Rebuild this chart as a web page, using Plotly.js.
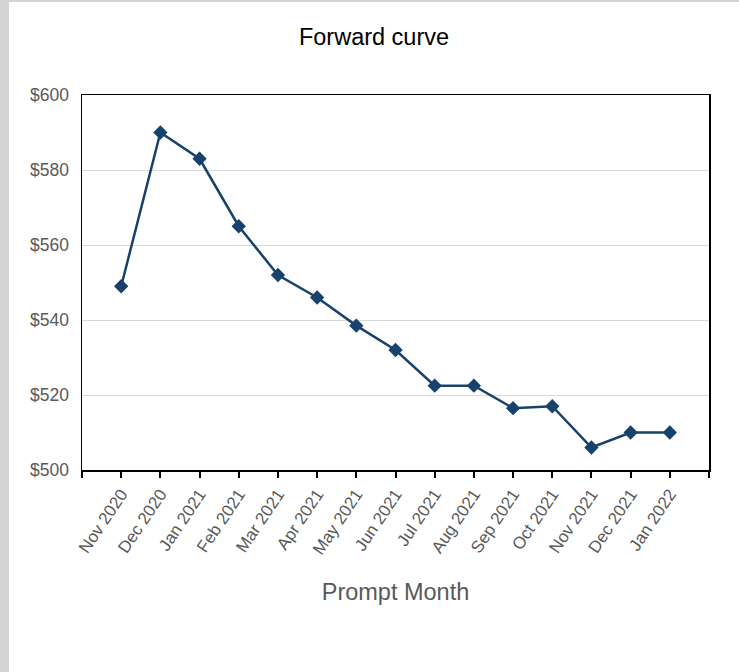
<!DOCTYPE html>
<html>
<head>
<meta charset="utf-8">
<script src="https://cdn.plot.ly/plotly-3.0.1.min.js"></script>
<style>
html,body{margin:0;padding:0;background:#d4d4d4;width:739px;height:672px;overflow:hidden;}
#chart{position:absolute;left:9px;top:2px;width:730px;height:670px;background:#fff;}
</style>
</head>
<body>
<div id="chart"></div>
<script>
const months = ["Nov 2020","Dec 2020","Jan 2021","Feb 2021","Mar 2021","Apr 2021","May 2021","Jun 2021","Jul 2021","Aug 2021","Sep 2021","Oct 2021","Nov 2021","Dec 2021","Jan 2022"];
const prices = [549, 590, 583, 565, 552, 546, 538.5, 532, 522.5, 522.5, 516.5, 517, 506, 510, 510];
const yTicks = [500, 520, 540, 560, 580, 600];

const idx = months.map((m, i) => i);
const tickvals = [-1].concat(idx).concat([15]);
const ticktext = [""].concat(months).concat([""]);

const trace = {
  x: idx,
  y: prices,
  text: months,
  type: "scatter",
  mode: "lines+markers",
  line: {color: "#17426d", width: 2.5},
  marker: {symbol: "diamond", size: 11, color: "#17426d"},
  hovertemplate: "%{text}: $%{y}<extra></extra>"
};

const layout = {
  width: 730,
  height: 670,
  margin: {l: 73, r: 30, t: 93, b: 202},
  paper_bgcolor: "#ffffff",
  plot_bgcolor: "#ffffff",
  showlegend: false,
  font: {family: "Liberation Sans, Arial, sans-serif", color: "#595959"},
  title: {text: "Forward curve", x: 0.5, xanchor: "center", y: 0.948, yanchor: "middle",
          font: {size: 23.5, color: "#000000", family: "Liberation Sans, Arial, sans-serif"}},
  xaxis: {
    range: [-1, 15],
    tickmode: "array",
    tickvals: tickvals,
    ticktext: ticktext,
    tickangle: -56,
    ticks: "outside",
    ticklen: 6,
    tickwidth: 2,
    tickcolor: "#000",
    showline: true,
    linecolor: "#000",
    linewidth: 1.5,
    mirror: true,
    showgrid: false,
    zeroline: false,
    tickfont: {size: 17, color: "#595959"},
    title: {text: "Prompt Month", font: {size: 23.5, color: "#595959"}, standoff: 26}
  },
  yaxis: {
    range: [500, 600],
    tickmode: "array",
    tickvals: yTicks,
    ticktext: yTicks.map(v => "$" + v),
    ticks: "",
    ticklabelstandoff: 8,
    showline: true,
    linecolor: "#000",
    linewidth: 1.5,
    mirror: true,
    showgrid: true,
    gridcolor: "#d9d9d9",
    gridwidth: 1,
    zeroline: false,
    tickfont: {size: 17.5, color: "#595959"}
  }
};

Plotly.newPlot("chart", [trace], layout, {displayModeBar: false, staticPlot: true});
</script>
</body>
</html>
